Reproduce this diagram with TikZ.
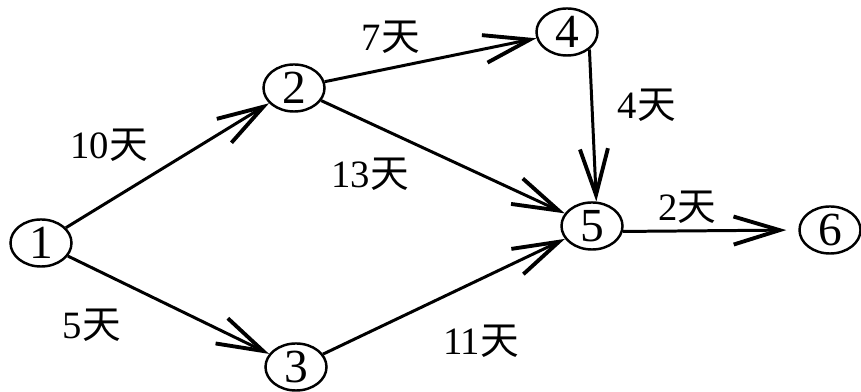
\documentclass[tikz,border=0pt]{standalone}
\usepackage{fontspec}
\setmainfont{Liberation Serif}
\newfontfamily\cjk{Noto Sans CJK SC}
\usetikzlibrary{arrows.meta,shapes.geometric}
\newcommand{\Tian}[1]{#1{\cjk 天}}
\tikzset{
event/.style={draw, ellipse, line width=0.7pt, minimum width=6.1mm, minimum height=4.7mm, inner sep=0pt, font=\fontsize{13.5}{14}\selectfont},
dur/.style={inner sep=0pt, font=\fontsize{11}{12}\selectfont},
arr/.style={line width=0.85pt, -{Straight Barb[length=4.6mm, width=2.8mm, line width=1.1pt]}}
}
\begin{document}
\begin{tikzpicture}[x=0.01cm, y=-0.01cm]
\useasboundingbox (0,0) rectangle (861,392);
\node[event] (n1) at (41,243) {1};
\node[event] (n2) at (294,88) {2};
\node[event] (n3) at (296,367) {3};
\node[event] (n4) at (567,32) {4};
\node[event] (n5) at (592,226) {5};
\node[event] (n6) at (830,230) {6};
\node[dur] (d12) at (109,145) {\Tian{10}};
\node[dur] (d13) at (92,325) {\Tian{5}};
\node[dur] (d24) at (391,37) {\Tian{7}};
\node[dur] (d25) at (370,174) {\Tian{13}};
\node[dur] (d45) at (647,105) {\Tian{4}};
\node[dur] (d35) at (481,341) {\Tian{11}};
\node[dur] (d56) at (687,207) {\Tian{2}};
\foreach \a/\b in {n1/n2, n1/n3, n2/n4, n2/n5, n3/n5}
\draw[arr] (\a) -- (\b);
\draw[arr] (n4.-38) -- (n5.80);
\draw[arr, shorten >=1.2mm] (n5.-10) -- (n6.west);
\end{tikzpicture}
\end{document}
